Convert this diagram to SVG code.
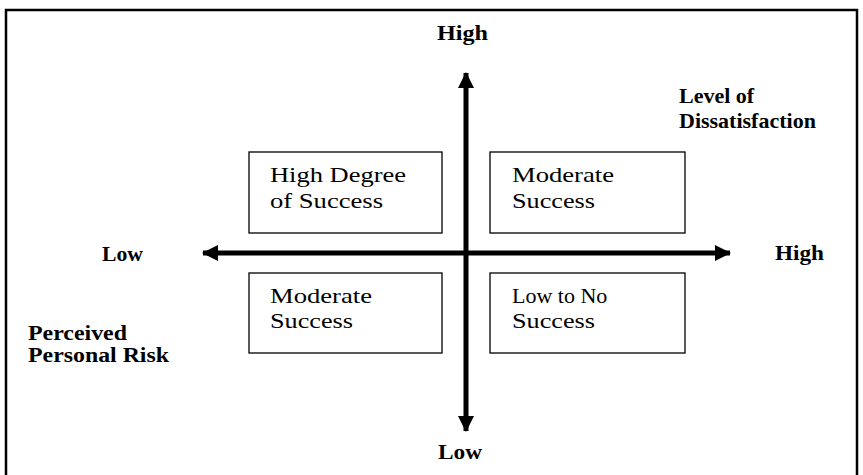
<svg xmlns="http://www.w3.org/2000/svg" width="863" height="475" viewBox="0 0 863 475">
<style>
.lbl{font-family:"Liberation Serif","Times New Roman",serif;font-weight:bold;font-size:22px;fill:#000}
.sm{font-size:20px}
.box{fill:#fff;stroke:#000;stroke-width:1.3}
.bt{font-family:"Liberation Serif","Times New Roman",serif;font-size:22px;fill:#000}
.axis{stroke:#000;stroke-width:5;fill:none}
</style>
<defs>
<marker id="ah" markerUnits="userSpaceOnUse" viewBox="0 0 16 16" refX="15" refY="8" markerWidth="16" markerHeight="16" orient="auto">
<path d="M0,0 L16,8 L0,16 Z" fill="#000"/>
</marker>
</defs>
<rect x="0" y="0" width="863" height="475" fill="#fff"/>
<rect x="6" y="10" width="851" height="480" fill="none" stroke="#000" stroke-width="2.5"/>
<g id="connectors">
<line class="axis" x1="466" y1="253" x2="466" y2="73" marker-end="url(#ah)"/>
<line class="axis" x1="466" y1="253" x2="466" y2="431" marker-end="url(#ah)"/>
<line class="axis" x1="466" y1="253" x2="203" y2="253" marker-end="url(#ah)"/>
<line class="axis" x1="466" y1="253" x2="730" y2="253" marker-end="url(#ah)"/>
</g>
<g id="node-high-degree">
<rect class="box" x="249" y="152" width="193" height="81"/>
<text class="bt" x="270" y="182" textLength="136" lengthAdjust="spacingAndGlyphs">High Degree</text>
<text class="bt" x="270" y="208" textLength="113" lengthAdjust="spacingAndGlyphs">of Success</text>
</g>
<g id="node-moderate-top">
<rect class="box" x="490" y="152" width="195" height="81"/>
<text class="bt" x="512" y="182" textLength="102" lengthAdjust="spacingAndGlyphs">Moderate</text>
<text class="bt" x="512" y="208" textLength="83" lengthAdjust="spacingAndGlyphs">Success</text>
</g>
<g id="node-moderate-bottom">
<rect class="box" x="249" y="273" width="193" height="80"/>
<text class="bt" x="270" y="303" textLength="102" lengthAdjust="spacingAndGlyphs">Moderate</text>
<text class="bt" x="270" y="328" textLength="83" lengthAdjust="spacingAndGlyphs">Success</text>
</g>
<g id="node-low-to-no">
<rect class="box" x="490" y="273" width="195" height="80"/>
<text class="bt" x="512" y="303">Low to No</text>
<text class="bt" x="512" y="328" textLength="83" lengthAdjust="spacingAndGlyphs">Success</text>
</g>
<g id="label-high-top"><text class="lbl" x="437" y="40" textLength="51" lengthAdjust="spacingAndGlyphs">High</text></g>
<g id="label-low-bottom"><text class="lbl" x="438" y="459" textLength="44" lengthAdjust="spacingAndGlyphs">Low</text></g>
<g id="label-low-left"><text class="lbl" x="102" y="261" textLength="41" lengthAdjust="spacingAndGlyphs">Low</text></g>
<g id="label-high-right"><text class="lbl" x="775" y="260" textLength="49" lengthAdjust="spacingAndGlyphs">High</text></g>
<g id="label-dissatisfaction">
<text class="lbl" x="679" y="103">Level of</text>
<text class="lbl" x="679" y="128">Dissatisfaction</text>
</g>
<g id="label-risk">
<text class="lbl sm" x="28" y="340" textLength="99" lengthAdjust="spacingAndGlyphs">Perceived</text>
<text class="lbl sm" x="28" y="362" textLength="141" lengthAdjust="spacingAndGlyphs">Personal Risk</text>
</g>
</svg>
